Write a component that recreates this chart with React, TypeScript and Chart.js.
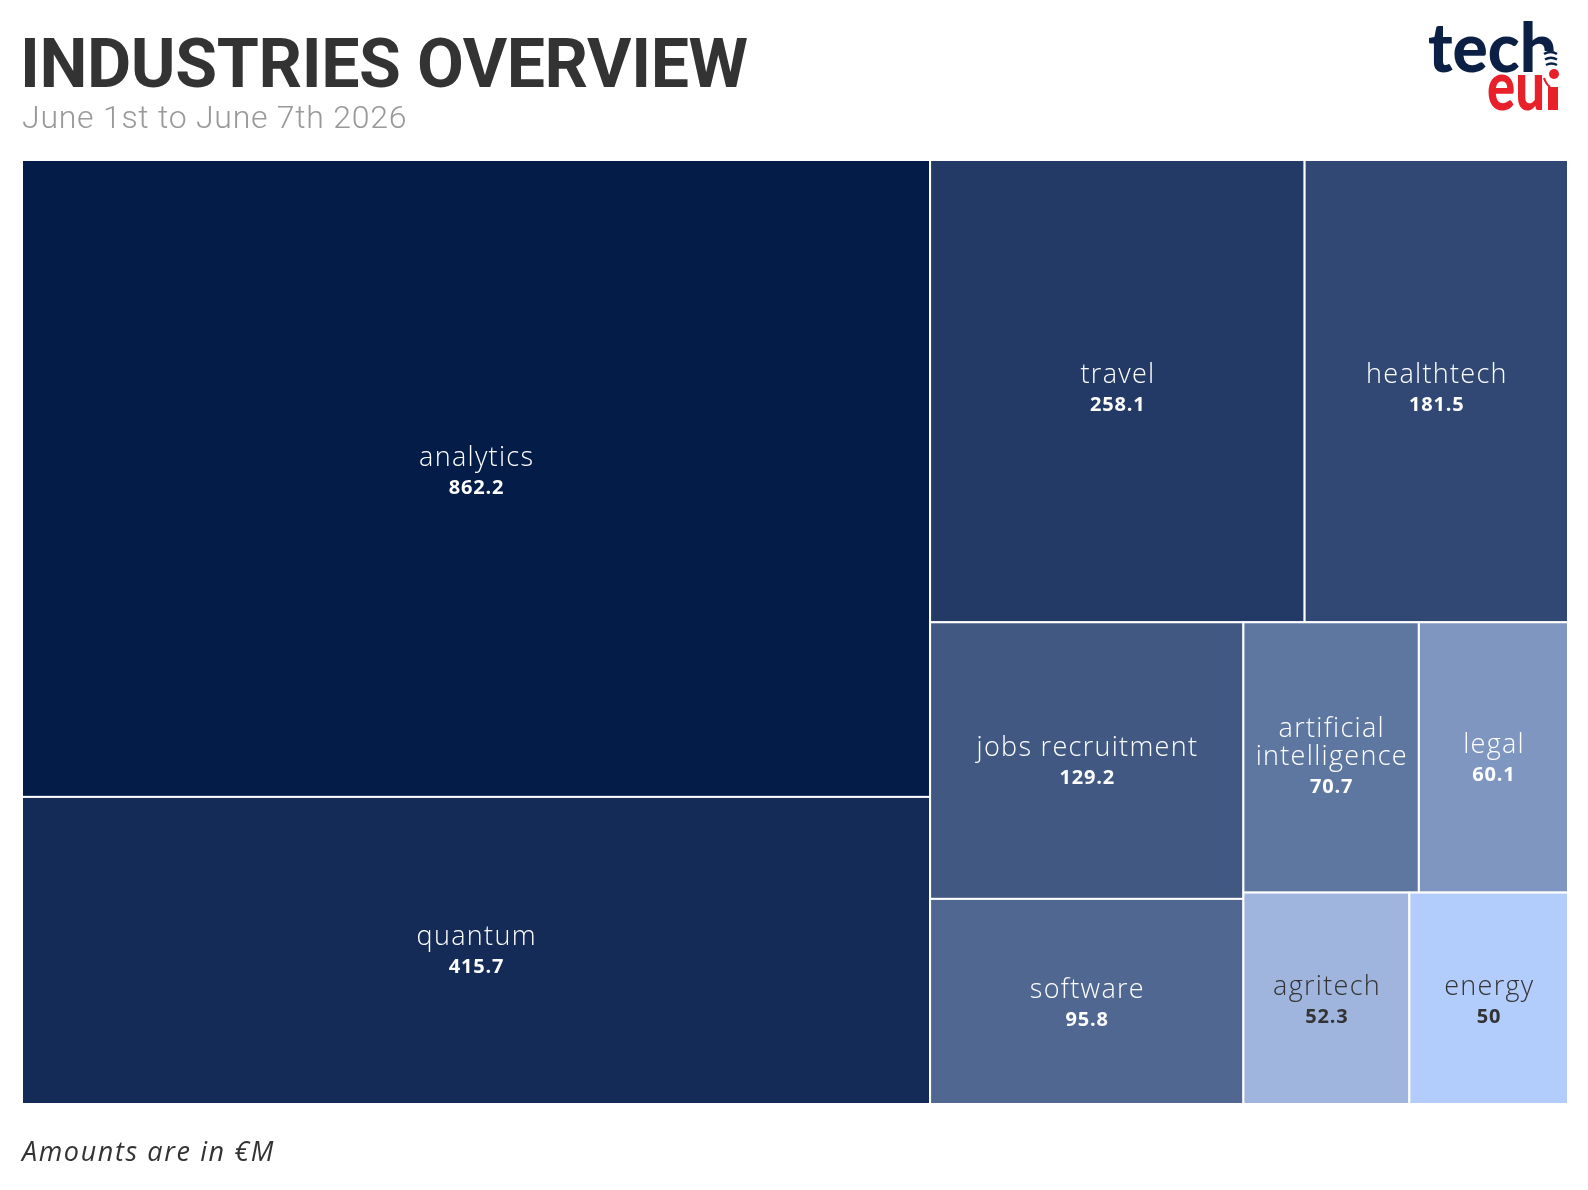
import React, { useEffect, useRef } from "react";
import { Chart, registerables } from "chart.js";

Chart.register(...registerables);

// ---- data ----
const categories = [
  "analytics",
  "quantum",
  "travel",
  "healthtech",
  "jobs recruitment",
  "software",
  "artificial intelligence",
  "legal",
  "agritech",
  "energy",
];
const amounts = [862.2, 415.7, 258.1, 181.5, 129.2, 95.8, 70.7, 60.1, 52.3, 50];
const amountLabels = ["862.2", "415.7", "258.1", "181.5", "129.2", "95.8", "70.7", "60.1", "52.3", "50"];
const cellColors = [
  "#041C48",
  "#152B57",
  "#233A66",
  "#304873",
  "#415982",
  "#4F6791",
  "#5E77A1",
  "#7F96C0",
  "#9FB5DE",
  "#B2CCFC",
];
const textColors = ["#FFFFFF", "#FFFFFF", "#FFFFFF", "#FFFFFF", "#FFFFFF", "#FFFFFF", "#FFFFFF", "#FFFFFF", "#333333", "#333333"];

const TITLE = "INDUSTRIES OVERVIEW";
const SUBTITLE = "June 1st to June 7th 2026";
const FOOTNOTE = "Amounts are in €M";

// layout domain (same aspect ratio as the plotting area)
const DOMAIN_W = 1546;
const DOMAIN_H = 944;

type Rect = { x0: number; y0: number; x1: number; y1: number };

// squarified treemap (d3-style golden-ratio rows; final row laid along the longer side)
function squarify(values: number[], x0: number, y0: number, x1: number, y1: number): Rect[] {
  const ratio = (1 + Math.sqrt(5)) / 2;
  const out: Rect[] = new Array(values.length);
  let value = values.reduce((a, b) => a + b, 0);
  const n = values.length;
  let i0 = 0;
  let i1 = 0;
  while (i0 < n) {
    const dx = x1 - x0;
    const dy = y1 - y0;
    let sumValue = values[i1++];
    let minValue = sumValue;
    let maxValue = sumValue;
    const alpha = Math.max(dy / dx, dx / dy) / (value * ratio);
    let beta = sumValue * sumValue * alpha;
    let minRatio = Math.max(maxValue / beta, beta / minValue);
    for (; i1 < n; ++i1) {
      const nv = values[i1];
      sumValue += nv;
      if (nv < minValue) minValue = nv;
      if (nv > maxValue) maxValue = nv;
      beta = sumValue * sumValue * alpha;
      const newRatio = Math.max(maxValue / beta, beta / minValue);
      if (newRatio > minRatio) {
        sumValue -= nv;
        break;
      }
      minRatio = newRatio;
    }
    const last = i1 >= n;
    const dice = last ? dx >= dy : dx < dy;
    if (dice) {
      const ny = !last ? y0 + (dy * sumValue) / value : y1;
      let x = x0;
      for (let i = i0; i < i1; i++) {
        const w = i === i1 - 1 ? x1 - x : ((x1 - x0) * values[i]) / sumValue;
        out[i] = { x0: x, y0: y0, x1: x + w, y1: ny };
        x += w;
      }
      y0 = ny;
    } else {
      const nx = !last ? x0 + (dx * sumValue) / value : x1;
      let y = y0;
      for (let i = i0; i < i1; i++) {
        const h = i === i1 - 1 ? y1 - y : ((y1 - y0) * values[i]) / sumValue;
        out[i] = { x0: x0, y0: y, x1: nx, y1: y + h };
        y += h;
      }
      x0 = nx;
    }
    value -= sumValue;
    i0 = i1;
  }
  return out;
}

const LABEL_FONT = '300 27px "Open Sans", "Noto Sans", sans-serif';
const VALUE_FONT = '700 20px "Open Sans", "Noto Sans", sans-serif';

function wrapText(ctx: CanvasRenderingContext2D, text: string, maxW: number): string[] {
  if (ctx.measureText(text).width <= maxW) return [text];
  const words = text.split(" ");
  const lines: string[] = [];
  let cur = "";
  for (const w of words) {
    const t = cur ? cur + " " + w : w;
    if (cur && ctx.measureText(t).width > maxW) {
      lines.push(cur);
      cur = w;
    } else cur = t;
  }
  if (cur) lines.push(cur);
  return lines;
}

const treemapPlugin = {
  id: "treemapCells",
  afterDatasetsDraw(chart: any) {
    const { ctx, scales } = chart;
    const xs = scales.x;
    const ys = scales.y;
    const rects = squarify(amounts, 0, 0, DOMAIN_W, DOMAIN_H);
    ctx.save();
    rects.forEach((r, i) => {
      const px0 = xs.getPixelForValue(r.x0);
      const px1 = xs.getPixelForValue(r.x1);
      const py0 = ys.getPixelForValue(r.y0);
      const py1 = ys.getPixelForValue(r.y1);
      ctx.fillStyle = cellColors[i];
      ctx.fillRect(px0, py0, px1 - px0, py1 - py0);
      ctx.strokeStyle = "#FFFFFF";
      ctx.lineWidth = 2;
      ctx.strokeRect(px0, py0, px1 - px0, py1 - py0);
    });
    rects.forEach((r, i) => {
      const px0 = xs.getPixelForValue(r.x0);
      const px1 = xs.getPixelForValue(r.x1);
      const py0 = ys.getPixelForValue(r.y0);
      const py1 = ys.getPixelForValue(r.y1);
      const cx = (px0 + px1) / 2;
      const cy = (py0 + py1) / 2;
      const h = py1 - py0;
      ctx.font = LABEL_FONT;
      (ctx as any).letterSpacing = "1.3px";
      const lines = wrapText(ctx, categories[i], px1 - px0 - 20);
      const n = lines.length;
      const lineGap = 28;
      const valGap = 30;
      const y = cy - 7 - 0.02 * h - ((n - 1) * lineGap) / 2 - (n - 1) * 2;
      ctx.fillStyle = textColors[i];
      ctx.textAlign = "center";
      ctx.textBaseline = "middle";
      lines.forEach((ln, k) => {
        ctx.fillText(ln, cx + 0.65, y + k * lineGap);
      });
      ctx.font = VALUE_FONT;
      (ctx as any).letterSpacing = "0.8px";
      ctx.fillText(amountLabels[i], cx + 0.4, y + (n - 1) * lineGap + valGap);
    });
    ctx.restore();
  },
};

function TreemapChart() {
  const ref = useRef<HTMLCanvasElement | null>(null);
  useEffect(() => {
    if (!ref.current) return;
    const rects = squarify(amounts, 0, 0, DOMAIN_W, DOMAIN_H);
    const chart = new Chart(ref.current, {
      type: "scatter",
      data: {
        datasets: [
          {
            label: "amounts",
            data: rects.map((r) => ({ x: (r.x0 + r.x1) / 2, y: (r.y0 + r.y1) / 2 })),
            pointRadius: 0,
            pointHoverRadius: 0,
          },
        ],
      },
      options: {
        animation: false,
        responsive: false,
        maintainAspectRatio: false,
        layout: { padding: { left: 22, top: 160, right: 20, bottom: 86 } },
        scales: {
          x: { type: "linear", min: 0, max: DOMAIN_W, display: false },
          y: { type: "linear", min: 0, max: DOMAIN_H, reverse: true, display: false },
        },
        plugins: {
          legend: { display: false },
          tooltip: { enabled: false },
          title: { display: false },
        },
      },
      plugins: [treemapPlugin],
    });
    return () => chart.destroy();
  }, []);
  return (
    <canvas
      ref={ref}
      width={1588}
      height={1190}
      style={{ position: "absolute", left: 0, top: 0, width: 1588, height: 1190 }}
    />
  );
}

function Logo() {
  const navy = "#0C2046";
  const red = "#E8202A";
  return (
    <svg width={150} height={110} style={{ position: "absolute", left: 1420, top: 10 }}>
      <text
        x={8}
        y={62}
        fontFamily="Lato, Roboto, sans-serif"
        fontWeight={900}
        fontSize={69}
        fill={navy}
        textLength={129}
        lengthAdjust="spacingAndGlyphs"
      >
        tech
      </text>
      <rect x={121} y={41} width={20} height={24} fill="#FFFFFF" />
      <text
        x={67}
        y={100}
        fontFamily="Lato, Roboto, sans-serif"
        fontWeight={900}
        fontSize={69}
        fill={red}
        textLength={58}
        lengthAdjust="spacingAndGlyphs"
      >
        eu
      </text>
      <rect x={128} y={77} width={10} height={23} fill={red} />
      <circle cx={134} cy={64} r={5} fill={red} />
      <path d="M124 44 Q130.5 40 137 44" stroke={navy} strokeWidth={2.4} fill="none" />
      <path d="M125 49.5 Q131 46 137 49.5" stroke={navy} strokeWidth={2.4} fill="none" />
      <path d="M126 55 Q131.5 52 137 55" stroke={navy} strokeWidth={2.4} fill="none" />
      <path d="M124 68 Q126 74 130 77" stroke={red} strokeWidth={2.2} fill="none" />
    </svg>
  );
}

export default function App() {
  return (
    <div style={{ position: "absolute", left: 0, top: 0, width: 1588, height: 1190, background: "#FFFFFF", overflow: "hidden" }}>
      <TreemapChart />
      <div
        style={{
          position: "absolute",
          left: 20,
          top: 24,
          fontFamily: '"Roboto", "Noto Sans", sans-serif',
          fontWeight: 700,
          fontSize: 68,
          lineHeight: "80px",
          color: "#333333",
          whiteSpace: "nowrap",
          letterSpacing: -0.4,
        }}
      >
        {TITLE}
      </div>
      <div
        style={{
          position: "absolute",
          left: 22,
          top: 97,
          fontFamily: '"Roboto", "Noto Sans", sans-serif',
          fontWeight: 300,
          fontSize: 32,
          lineHeight: "40px",
          color: "#999999",
          whiteSpace: "nowrap",
          letterSpacing: 0.75,
        }}
      >
        {SUBTITLE}
      </div>
      <div
        style={{
          position: "absolute",
          left: 22,
          top: 1133,
          fontFamily: '"Open Sans", "Noto Sans", sans-serif',
          fontStyle: "italic",
          fontWeight: 400,
          fontSize: 27,
          lineHeight: "36px",
          color: "#333333",
          whiteSpace: "nowrap",
          letterSpacing: 1.6,
        }}
      >
        {FOOTNOTE}
      </div>
      <Logo />
    </div>
  );
}
